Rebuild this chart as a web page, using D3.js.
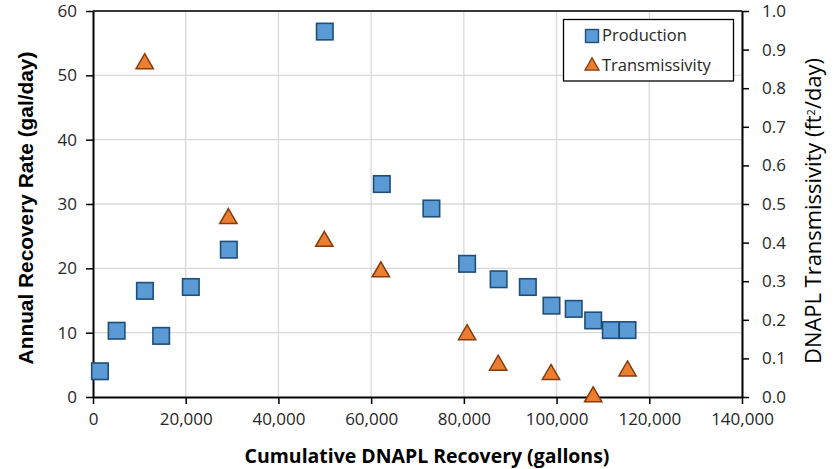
<!DOCTYPE html>
<html><head><meta charset="utf-8">
<script src="https://cdn.jsdelivr.net/npm/d3@7"></script>
<style>
body{margin:0;background:#fff;}
svg{display:block;}
</style></head>
<body><svg id="chart" width="838" height="469"></svg>
<script>
// Data
const productionX = [1500, 5100, 11200, 14700, 21100, 29300, 50000, 62300, 73000, 80700, 87500, 93800, 98900, 103700, 107900, 111700, 115300];
const productionY = [4.0, 10.3, 16.5, 9.5, 17.1, 22.9, 56.8, 33.1, 29.3, 20.7, 18.3, 17.1, 14.2, 13.7, 11.9, 10.4, 10.4];
const transX = [11150, 29200, 49900, 62100, 80700, 87400, 98800, 107900, 115300];
const transY = [0.866, 0.465, 0.406, 0.327, 0.164, 0.085, 0.061, 0.003, 0.070];
const xTicks = [0, 20000, 40000, 60000, 80000, 100000, 120000, 140000];
const yLeftTicks = [0, 10, 20, 30, 40, 50, 60];
const yRightTicks = [0, 0.1, 0.2, 0.3, 0.4, 0.5, 0.6, 0.7, 0.8, 0.9, 1.0];
const seriesNames = ["Production", "Transmissivity"];

const svg = d3.select("#chart");
const L = 93, R = 742, T = 11, B = 397;
const x = d3.scaleLinear().domain([0, 140000]).range([L, R]);
const yL = d3.scaleLinear().domain([0, 60]).range([B, T]);
const yR = d3.scaleLinear().domain([0, 1]).range([B, T]);

const gridColor = "#d9d9d9";
const tickFont = "'Open Sans', sans-serif";

// gridlines
svg.append("g").selectAll("line").data(xTicks.slice(1)).join("line")
  .attr("x1", d => x(d)).attr("x2", d => x(d)).attr("y1", T).attr("y2", B)
  .attr("stroke", gridColor).attr("stroke-width", 1.3);
svg.append("g").selectAll("line").data(yLeftTicks.slice(1)).join("line")
  .attr("x1", L).attr("x2", R).attr("y1", d => yL(d)).attr("y2", d => yL(d))
  .attr("stroke", gridColor).attr("stroke-width", 1.3);

// axes
const styleAxis = g => {
  g.select(".domain").attr("stroke", "#000").attr("stroke-width", 2);
  g.selectAll(".tick line").attr("stroke", "#000").attr("stroke-width", 1.5);
  g.selectAll(".tick text").attr("fill", "#262626").style("font-family", tickFont).style("font-size", "17px");
};
svg.append("g").attr("transform", `translate(0,${B})`)
  .call(d3.axisBottom(x).tickValues(xTicks).tickFormat(d3.format(",")).tickSize(7).tickSizeOuter(0).tickPadding(9))
  .call(styleAxis);
svg.append("g").attr("transform", `translate(${L},0)`)
  .call(d3.axisLeft(yL).tickValues(yLeftTicks).tickFormat(d3.format("d")).tickSize(7).tickSizeOuter(0).tickPadding(9))
  .call(styleAxis);
svg.append("g").attr("transform", `translate(${R},0)`)
  .call(d3.axisRight(yR).tickValues(yRightTicks).tickFormat(d3.format(".1f")).tickSize(7).tickSizeOuter(0).tickPadding(13))
  .call(styleAxis);
// top border
svg.append("line").attr("x1", L).attr("x2", R).attr("y1", T).attr("y2", T).attr("stroke", "#000").attr("stroke-width", 1.5);

// markers
const sq = 16.5;
svg.append("g").selectAll("rect").data(productionX.map((d, i) => [d, productionY[i]])).join("rect")
  .attr("x", d => x(d[0]) - sq / 2).attr("y", d => yL(d[1]) - sq / 2)
  .attr("width", sq).attr("height", sq)
  .attr("fill", "#5B9BD5").attr("stroke", "#1F4E79").attr("stroke-width", 1.6);

const tri = d3.symbol().type(d3.symbolTriangle).size(130);
svg.append("g").selectAll("path").data(transX.map((d, i) => [d, transY[i]])).join("path")
  .attr("d", tri)
  .attr("transform", d => `translate(${x(d[0])},${yR(d[1]) + 1})`)
  .attr("fill", "#ED7D31").attr("stroke", "#843C0C").attr("stroke-width", 1.5);

// legend
const lg = svg.append("g");
lg.append("rect").attr("x", 563.5).attr("y", 19.5).attr("width", 170).attr("height", 61.5)
  .attr("fill", "#fff").attr("stroke", "#000").attr("stroke-width", 1.3);
lg.append("rect").attr("x", 585.5).attr("y", 29.5).attr("width", 13).attr("height", 13)
  .attr("fill", "#5B9BD5").attr("stroke", "#1F4E79").attr("stroke-width", 1.4);
lg.append("path").attr("d", d3.symbol().type(d3.symbolTriangle).size(85))
  .attr("transform", "translate(592,66)")
  .attr("fill", "#ED7D31").attr("stroke", "#843C0C").attr("stroke-width", 1.3);
lg.selectAll("text").data(seriesNames).join("text")
  .attr("x", 602).attr("y", (d, i) => 41 + i * 30)
  .style("font-family", tickFont).style("font-size", "16.5px").attr("fill", "#262626")
  .text(d => d);

// titles
function fit(sel, target) {
  const w = sel.node().getComputedTextLength();
  const fs = parseFloat(sel.style("font-size"));
  sel.style("font-size", (fs * target / w) + "px");
}
const xt = svg.append("text").attr("x", 427).attr("y", 463).attr("text-anchor", "middle")
  .style("font-family", "'Open Sans', sans-serif").style("font-weight", "bold").style("font-size", "18px")
  .attr("fill", "#000").text("Cumulative DNAPL Recovery (gallons)");
fit(xt, 365);
const ylt = svg.append("text").attr("transform", "translate(33,208) rotate(-90)").attr("text-anchor", "middle")
  .style("font-family", "'Liberation Sans', Arial, sans-serif").style("font-weight", "bold").style("font-size", "18px")
  .attr("fill", "#000").text("Annual Recovery Rate (gal/day)");
fit(ylt, 313);
const yrt = svg.append("text").attr("transform", "translate(821,211) rotate(-90)").attr("text-anchor", "middle")
  .style("font-family", "'Open Sans', sans-serif").style("font-size", "17px").attr("fill", "#000");
yrt.append("tspan").text("DNAPL Transmissivity (ft");
yrt.append("tspan").attr("dy", -6).style("font-size", "11px").text("2");
yrt.append("tspan").attr("dy", 6).text("/day)");
fit(yrt, 308);
</script></body></html>
